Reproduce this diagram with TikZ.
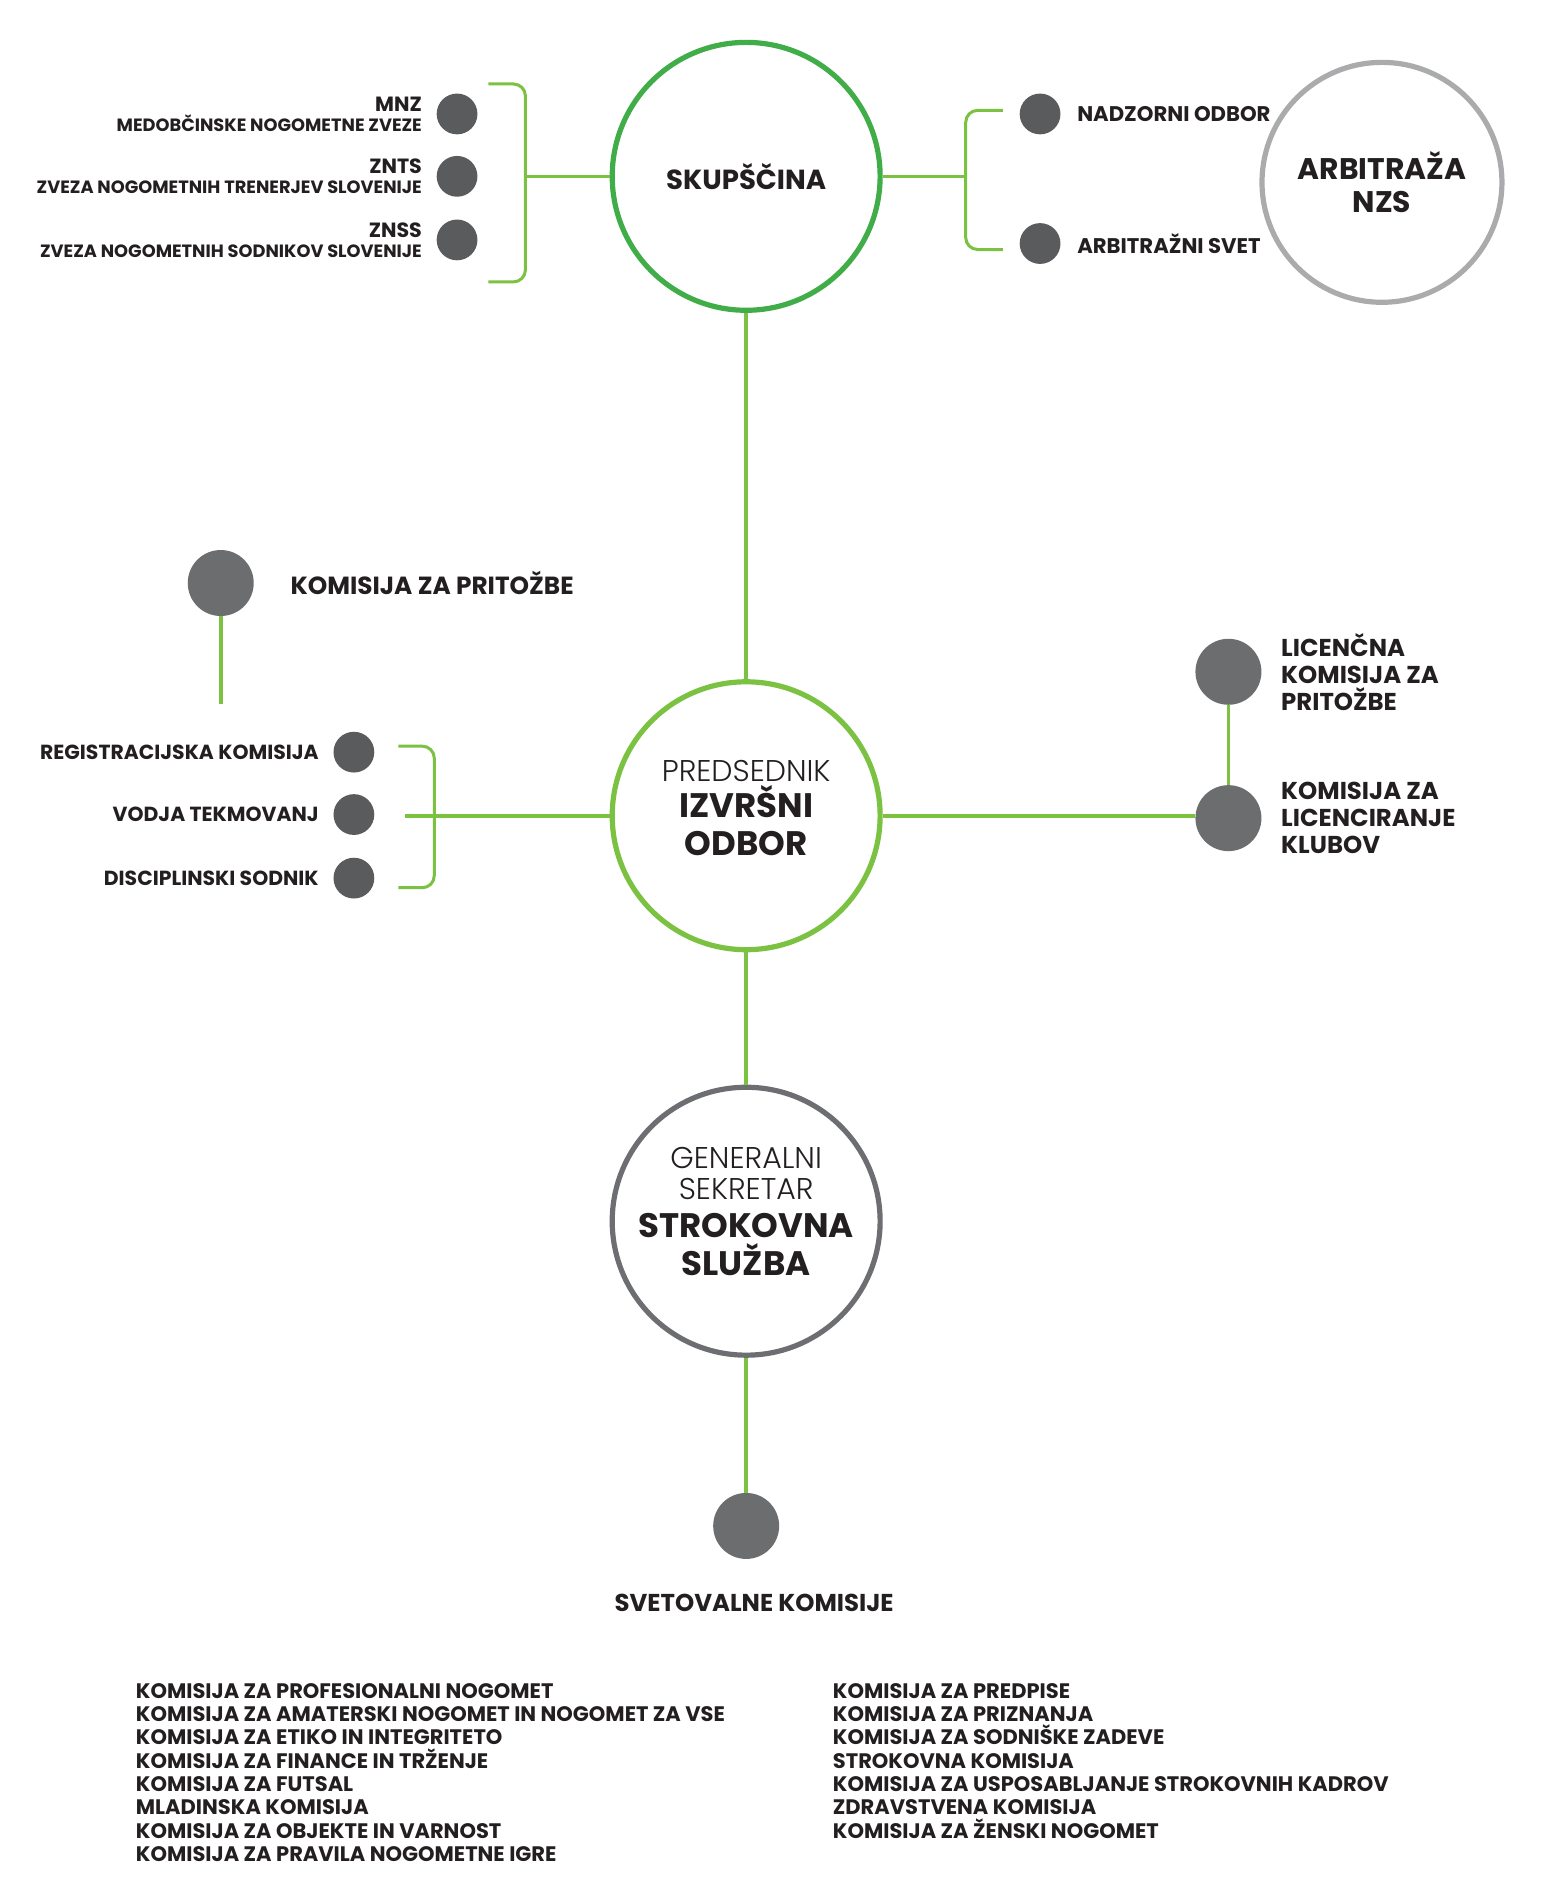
\documentclass[tikz,border=0pt]{standalone}
\usepackage{fontspec}
\setmainfont{Poppins}
\newfontfamily\lightfont{Poppins Light}
\usetikzlibrary{
    positioning,
    calc
}
\definecolor{darkgreen}{HTML}{41AD49}
\definecolor{lightgreen}{HTML}{7CC242}
\definecolor{dotgray}{HTML}{5A5B5D}
\definecolor{bigdotgray}{HTML}{6C6D6F}
\definecolor{ringgray}{HTML}{AAABAD}
\definecolor{darkring}{HTML}{6D6E71}
\definecolor{ink}{HTML}{231F20}
\tikzset {
    ring/.style = {circle, line width = 2.6pt, minimum size = 134pt, inner sep = 0pt,
        align = center, text = ink, fill = white, font = \bfseries},
    small dot/.style = {circle, fill = dotgray, minimum size = 20.4pt, inner sep = 0pt},
    big dot/.style = {circle, fill = bigdotgray, minimum size = 33pt, inner sep = 0pt},
    link/.style = {lightgreen, line width = 1.8pt},
    bracket/.style = {lightgreen, line width = 1.5pt, rounded corners = 6pt},
    label/.style = {text = ink, font = \bfseries, inner sep = 0pt}
}
\newcommand\thin[2]{\lightfont\mdseries\fontsize{#1}{#2}\selectfont}
\newcommand\heavy[2]{\normalfont\bfseries\fontsize{#1}{#2}\selectfont}
\begin{document}
\begin{tikzpicture}[x = 0.6pt, y = -0.6pt]
    \useasboundingbox (0, 0) rectangle (1284, 1568);
    % main circles
    \node (skup) [ring, draw = darkgreen, font = \heavy{13.8}{16}] at (622, 147) {SKUPŠČINA};
    \node (arb) [ring, draw = ringgray, minimum size = 120pt, font = \heavy{14.9}{16.5}] at (1152, 152) {ARBITRAŽA\\NZS};
    \node (izv) [ring, draw = lightgreen, font = \heavy{17}{19}, text depth = 7.5pt] at (622, 680)
        {\thin{15}{19}PREDSEDNIK\\[-1pt]\heavy{17}{19}IZVRŠNI\\\heavy{17}{19}ODBOR};
    \node (strok) [ring, draw = darkring, font = \heavy{17}{19}, text depth = 10pt] at (622, 1018)
        {\thin{15}{19}GENERALNI\\[-3.4pt]\thin{15}{19}SEKRETAR\\[-0.4pt]\heavy{17}{19}STROKOVNA\\\heavy{17}{19}SLUŽBA};
    %
    \draw [link] (skup) -- (izv);
    \draw [link] (izv) -- (strok);
    % skupscina, left
    \node (mnz) [small dot] at (381, 95) {};
    \node (znts) [small dot] at (381, 147) {};
    \node (znss) [small dot] at (381, 200) {};
    \node [label, left = 7pt of mnz, align = right, font = \heavy{10.3}{11}]
        {MNZ\\[-1pt]\heavy{8.9}{10}MEDOBČINSKE NOGOMETNE ZVEZE};
    \node [label, left = 7pt of znts, align = right, font = \heavy{10.3}{11}]
        {ZNTS\\[-1pt]\heavy{8.9}{10}ZVEZA NOGOMETNIH TRENERJEV SLOVENIJE};
    \node [label, left = 7pt of znss, align = right, font = \heavy{10.3}{11}]
        {ZNSS\\[-1pt]\heavy{8.9}{10}ZVEZA NOGOMETNIH SODNIKOV SLOVENIJE};
    \draw [bracket] (407, 70) -- (438, 70) -- (438, 235) -- (407, 235);
    \coordinate (lb) at (438, 147);
    \draw [link] (lb) -- (skup);
    % skupscina, right
    \node (nadz) [small dot] at (867, 95) {};
    \node (asvet) [small dot] at (867, 203) {};
    \node [label, right = 8pt of nadz, font = \heavy{10.6}{12}] {NADZORNI ODBOR};
    \node [label, right = 8pt of asvet, font = \heavy{10.6}{12}] {ARBITRAŽNI SVET};
    \draw [bracket] (836, 92) -- (805, 92) -- (805, 208) -- (836, 208);
    \coordinate (rb) at (805, 147);
    \draw [link] (skup) -- (rb);
    % izvrsni odbor, left
    \node (pritoz) [big dot] at (184, 486) {};
    \node [label, right = 18pt of pritoz, font = \heavy{12.4}{14}] {KOMISIJA ZA PRITOŽBE};
    \coordinate (pend) at (184, 587);
    \draw [link] (pritoz) -- (pend);
    \node (reg) [small dot] at (295, 627) {};
    \node (vodja) [small dot] at (295, 679) {};
    \node (disc) [small dot] at (295, 732) {};
    \node [label, left = 7pt of reg, font = \heavy{10.2}{12}] {REGISTRACIJSKA KOMISIJA};
    \node [label, left = 7pt of vodja, font = \heavy{10.2}{12}] {VODJA TEKMOVANJ};
    \node [label, left = 7pt of disc, font = \heavy{10.2}{12}] {DISCIPLINSKI SODNIK};
    \draw [bracket] (332, 622) -- (362, 622) -- (362, 740) -- (332, 740);
    \coordinate (mb) at (338, 680);
    \draw [link] (mb) -- (izv);
    % izvrsni odbor, right
    \node (lic) [big dot] at (1024, 560) {};
    \node (klub) [big dot] at (1024, 682) {};
    \draw [link] (lic) -- (klub);
    \draw [link] (izv.east) -- (izv.east -| klub.west);
    \node [label, right = 9.5pt of lic, align = left, font = \heavy{12.2}{13.5}]
        {LICENČNA\\KOMISIJA ZA\\PRITOŽBE};
    \node [label, right = 9.5pt of klub, align = left, font = \heavy{12.2}{13.5}]
        {KOMISIJA ZA\\LICENCIRANJE\\KLUBOV};
    % strokovna sluzba
    \node (svet) [big dot] at (622, 1272) {};
    \draw [link] (strok) -- (svet);
    \node (svetlabel) [label, below = 17pt of svet, xshift = 4pt, font = \heavy{12.2}{14}] {SVETOVALNE KOMISIJE};
    \node (listl) [label, anchor = north west, align = left, font = \heavy{10.5}{11.64}] at (113, 1403)
        {KOMISIJA ZA PROFESIONALNI NOGOMET\\
         KOMISIJA ZA AMATERSKI NOGOMET IN NOGOMET ZA VSE\\
         KOMISIJA ZA ETIKO IN INTEGRITETO\\
         KOMISIJA ZA FINANCE IN TRŽENJE\\
         KOMISIJA ZA FUTSAL\\
         MLADINSKA KOMISIJA\\
         KOMISIJA ZA OBJEKTE IN VARNOST\\
         KOMISIJA ZA PRAVILA NOGOMETNE IGRE};
    \node (listr) [label, anchor = north west, align = left, font = \heavy{10.5}{11.64}] at (694, 1403)
        {KOMISIJA ZA PREDPISE\\
         KOMISIJA ZA PRIZNANJA\\
         KOMISIJA ZA SODNIŠKE ZADEVE\\
         STROKOVNA KOMISIJA\\
         KOMISIJA ZA USPOSABLJANJE STROKOVNIH KADROV\\
         ZDRAVSTVENA KOMISIJA\\
         KOMISIJA ZA ŽENSKI NOGOMET};
\end{tikzpicture}
\end{document}
